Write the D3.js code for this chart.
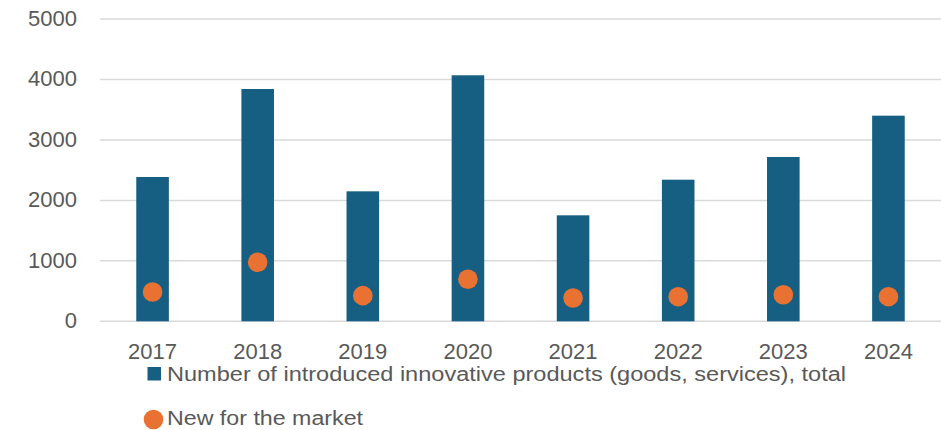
<!DOCTYPE html>
<html>
<head>
<meta charset="utf-8">
<script src="https://cdn.jsdelivr.net/npm/d3@7"></script>
<style>
  html, body { margin: 0; padding: 0; background: #fff; }
  svg { display: block; font-family: "Liberation Sans", Arial, sans-serif; }
</style>
</head>
<body>
<svg id="chart" width="941" height="430"></svg>
<script>
// Innovation statistics, 2017–2024
const years = ["2017", "2018", "2019", "2020", "2021", "2022", "2023", "2024"];
const totalProducts = [2387, 3842, 2150, 4069, 1753, 2342, 2718, 3401];
const newForMarket = [485, 976, 424, 695, 385, 407, 440, 407];
const yTicks = [0, 1000, 2000, 3000, 4000, 5000];
const seriesNames = [
  "Number of introduced innovative products (goods, services), total",
  "New for the market"
];

const barColor = "#175F82";
const dotColor = "#E97132";
const textColor = "#595959";
const gridColor = "#D9D9D9";

const svg = d3.select("#chart");
const margin = { left: 100, right: 0, top: 19, bottom: 109 };
const width = 941, height = 430;

const x = d3.scaleBand()
  .domain(years)
  .range([margin.left, width - margin.right])
  .paddingInner(0.69)
  .paddingOuter(0.345);

const y = d3.scaleLinear()
  .domain([0, 5000])
  .range([height - margin.bottom + 0.3, margin.top]);

// Horizontal gridlines
svg.append("g")
  .selectAll("line")
  .data(yTicks)
  .join("line")
  .attr("x1", margin.left)
  .attr("x2", width - margin.right)
  .attr("y1", d => y(d))
  .attr("y2", d => y(d))
  .attr("stroke", gridColor)
  .attr("stroke-width", 1.5);

// Y axis labels
const yAxis = d3.axisLeft(y)
  .tickValues(yTicks)
  .tickFormat(d3.format("d"))
  .tickSize(0)
  .tickPadding(0);
svg.append("g")
  .attr("transform", "translate(77,0)")
  .call(yAxis)
  .call(g => g.select(".domain").remove())
  .call(g => g.selectAll("text")
    .attr("fill", textColor)
    .attr("font-size", 22)
    .attr("font-family", "Liberation Sans, Arial, sans-serif")
    .attr("dy", "0.28em"));

// Bars
svg.append("g")
  .selectAll("rect")
  .data(years)
  .join("rect")
  .attr("x", d => x(d))
  .attr("width", x.bandwidth())
  .attr("y", (d, i) => y(totalProducts[i]))
  .attr("height", (d, i) => y(0) - y(totalProducts[i]))
  .attr("fill", barColor);

// Markers for "new for the market"
svg.append("g")
  .selectAll("circle")
  .data(years)
  .join("circle")
  .attr("cx", d => x(d) + x.bandwidth() / 2)
  .attr("cy", (d, i) => y(newForMarket[i]))
  .attr("r", 9.8)
  .attr("fill", dotColor);

// X axis labels
const xAxis = d3.axisBottom(x).tickSize(0).tickPadding(0);
svg.append("g")
  .attr("transform", "translate(0,359)")
  .call(xAxis)
  .call(g => g.select(".domain").remove())
  .call(g => g.selectAll("text")
    .attr("fill", textColor)
    .attr("font-size", 22)
    .attr("font-family", "Liberation Sans, Arial, sans-serif")
    .attr("dy", 0));

// Legend
const legend = svg.append("g");
legend.append("rect")
  .attr("x", 147.5).attr("y", 367)
  .attr("width", 13.5).attr("height", 13.5)
  .attr("fill", barColor);
legend.append("text")
  .attr("x", 167).attr("y", 381)
  .attr("fill", textColor)
  .attr("font-size", 20)
  .attr("textLength", 679)
  .attr("lengthAdjust", "spacingAndGlyphs")
  .text(seriesNames[0]);
legend.append("circle")
  .attr("cx", 153.5).attr("cy", 419.5).attr("r", 9.8)
  .attr("fill", dotColor);
legend.append("text")
  .attr("x", 167).attr("y", 425)
  .attr("fill", textColor)
  .attr("font-size", 20)
  .attr("textLength", 196)
  .attr("lengthAdjust", "spacingAndGlyphs")
  .text(seriesNames[1]);
</script>
</body>
</html>
